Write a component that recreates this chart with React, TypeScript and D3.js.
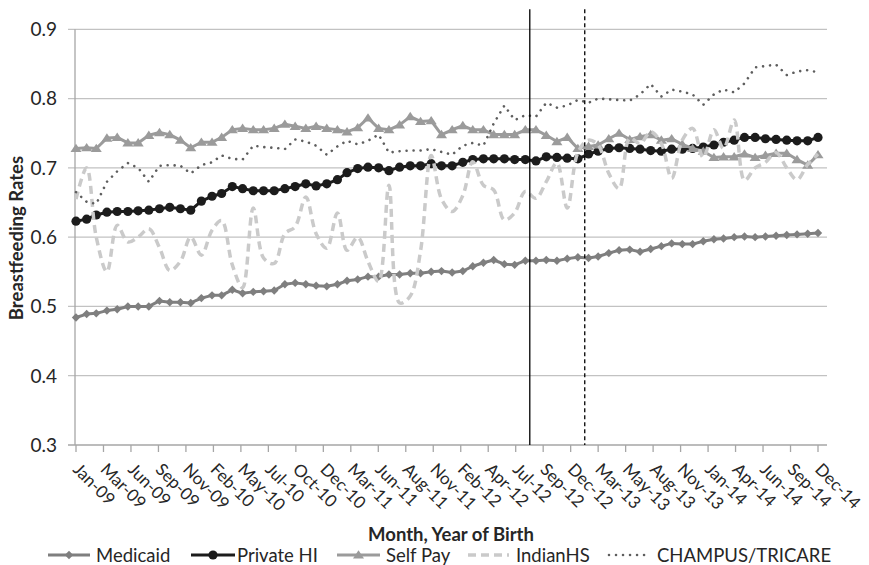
import * as d3 from "d3";

const W = 869;
const H = 565;

// one point per month, Jan 2009 .. Dec 2014
const months = d3.timeMonth.range(new Date(2009, 0, 1), new Date(2015, 0, 1));

const tickLabels = [
  "Jan-09", "Mar-09", "Jun-09", "Sep-09", "Nov-09", "Feb-10", "May-10", "Jul-10",
  "Oct-10", "Dec-10", "Mar-11", "Jun-11", "Aug-11", "Nov-11", "Feb-12", "Apr-12",
  "Jul-12", "Sep-12", "Dec-12", "Mar-13", "May-13", "Aug-13", "Nov-13", "Jan-14",
  "Apr-14", "Jun-14", "Sep-14", "Dec-14",
];
const yTicks = [0.3, 0.4, 0.5, 0.6, 0.7, 0.8, 0.9];

const medicaid = [
  0.484, 0.489, 0.490, 0.494, 0.496, 0.500, 0.500, 0.500, 0.508, 0.506,
  0.506, 0.505, 0.512, 0.516, 0.516, 0.524, 0.519, 0.521, 0.522, 0.523,
  0.532, 0.534, 0.532, 0.530, 0.529, 0.532, 0.537, 0.539, 0.543, 0.543,
  0.546, 0.546, 0.548, 0.548, 0.550, 0.551, 0.549, 0.551, 0.558, 0.563,
  0.567, 0.561, 0.560, 0.566, 0.566, 0.567, 0.566, 0.569, 0.571, 0.570,
  0.572, 0.577, 0.581, 0.582, 0.579, 0.583, 0.587, 0.591, 0.590, 0.590,
  0.594, 0.597, 0.598, 0.600, 0.601, 0.600, 0.601, 0.602, 0.603, 0.604,
  0.605, 0.606,
];
const privateHI = [
  0.623, 0.626, 0.632, 0.636, 0.637, 0.637, 0.638, 0.639, 0.641, 0.643,
  0.641, 0.639, 0.652, 0.659, 0.663, 0.673, 0.670, 0.667, 0.667, 0.667,
  0.670, 0.673, 0.677, 0.674, 0.677, 0.683, 0.693, 0.699, 0.701, 0.700,
  0.696, 0.701, 0.703, 0.703, 0.706, 0.703, 0.703, 0.708, 0.712, 0.713,
  0.713, 0.713, 0.712, 0.712, 0.710, 0.716, 0.715, 0.714, 0.713, 0.720,
  0.724, 0.728, 0.729, 0.728, 0.727, 0.725, 0.724, 0.727, 0.727, 0.728,
  0.730, 0.733, 0.737, 0.740, 0.744, 0.744, 0.742, 0.741, 0.740, 0.739,
  0.739, 0.744,
];
const selfPay = [
  0.728, 0.729, 0.728, 0.743, 0.744, 0.736, 0.736, 0.747, 0.751, 0.748,
  0.740, 0.729, 0.737, 0.737, 0.744, 0.755, 0.757, 0.755, 0.755, 0.757,
  0.763, 0.760, 0.757, 0.760, 0.757, 0.755, 0.752, 0.758, 0.772, 0.757,
  0.755, 0.762, 0.774, 0.767, 0.768, 0.748, 0.755, 0.761, 0.755, 0.755,
  0.748, 0.748, 0.748, 0.755, 0.755, 0.747, 0.738, 0.744, 0.728, 0.731,
  0.733, 0.742, 0.750, 0.741, 0.745, 0.748, 0.740, 0.742, 0.734, 0.728,
  0.724, 0.715, 0.716, 0.716, 0.720, 0.715, 0.718, 0.721, 0.721, 0.712,
  0.704, 0.719,
];
const indianHS = [
  0.655, 0.700, 0.600, 0.550, 0.617, 0.593, 0.600, 0.612, 0.585, 0.552,
  0.565, 0.600, 0.574, 0.610, 0.624, 0.560, 0.527, 0.642, 0.570, 0.562,
  0.605, 0.615, 0.658, 0.605, 0.584, 0.635, 0.581, 0.600, 0.565, 0.536,
  0.675, 0.505, 0.515, 0.580, 0.718, 0.655, 0.637, 0.660, 0.709, 0.675,
  0.668, 0.625, 0.635, 0.666, 0.656, 0.680, 0.707, 0.642, 0.722, 0.740,
  0.733, 0.692, 0.670, 0.743, 0.735, 0.752, 0.735, 0.685, 0.740, 0.757,
  0.715, 0.755, 0.728, 0.769, 0.682, 0.700, 0.708, 0.722, 0.700, 0.683,
  0.705, 0.720,
];
const champus = [
  0.665, 0.651, 0.648, 0.680, 0.695, 0.707, 0.700, 0.680, 0.703, 0.704,
  0.703, 0.692, 0.704, 0.708, 0.718, 0.713, 0.712, 0.732, 0.730, 0.729,
  0.727, 0.741, 0.738, 0.732, 0.719, 0.731, 0.739, 0.734, 0.739, 0.748,
  0.722, 0.724, 0.725, 0.725, 0.727, 0.723, 0.719, 0.732, 0.736, 0.732,
  0.764, 0.790, 0.769, 0.776, 0.774, 0.794, 0.787, 0.790, 0.798, 0.794,
  0.800, 0.799, 0.798, 0.797, 0.806, 0.821, 0.803, 0.813, 0.810, 0.806,
  0.791, 0.806, 0.813, 0.809, 0.822, 0.845, 0.847, 0.849, 0.834, 0.839,
  0.841, 0.838,
];

// policy reference dates (vertical lines)
const solidLineDate = new Date(2012, 7, 14);
const dashedLineDate = new Date(2013, 0, 21);

type Marker = "diamond" | "circle" | "triangle" | "none";
const series: { name: string; values: number[]; color: string; width: number; dash?: string; cap?: string; marker: Marker; smooth?: boolean }[] = [
  { name: "Medicaid", values: medicaid, color: "#7f7f7f", width: 3, marker: "diamond" },
  { name: "Private HI", values: privateHI, color: "#1c1c1c", width: 3, marker: "circle" },
  { name: "Self Pay", values: selfPay, color: "#9b9b9b", width: 3, marker: "triangle" },
  { name: "IndianHS", values: indianHS, color: "#cacaca", width: 3.5, dash: "8 5", marker: "none", smooth: true },
  { name: "CHAMPUS/TRICARE", values: champus, color: "#5e5e5e", width: 2.6, dash: "0.01 7", cap: "round", marker: "none" },
];

const font = "Lato, 'Open Sans', sans-serif";
const textColor = "#262626";

function markerPath(m: Marker, r: number) {
  if (m === "diamond") return `M0,${-r}L${r},0L0,${r}L${-r},0Z`;
  if (m === "triangle") return `M0,${-r}L${r * 1.15},${r * 0.75}L${-r * 1.15},${r * 0.75}Z`;
  return "";
}

function MarkerShape({ m, color, x, y }: { m: Marker; color: string; x: number; y: number }) {
  if (m === "none") return null;
  if (m === "circle") return <circle cx={x} cy={y} r={4.6} fill={color} />;
  return <path d={markerPath(m, m === "diamond" ? 4.2 : 4.8)} transform={`translate(${x},${y})`} fill={color} />;
}

export default function App() {
  const left = 76;
  const right = 818;
  const axisEnd = 827;
  const top = 29.3;
  const bottom = 445;

  const x = d3.scaleTime().domain([months[0], months[months.length - 1]]).range([left, right]);
  const y = d3.scaleLinear().domain([0.3, 0.9]).range([bottom, top]);

  // date axis: evenly spaced major ticks across the full range
  const t0 = +months[0];
  const t1 = +months[months.length - 1];
  const tickDates = tickLabels.map((_, k) => new Date(t0 + (k * (t1 - t0)) / (tickLabels.length - 1)));

  const gridX0 = left - 1;

  const legendItems = [
    { s: series[0], x0: 48, x1: 90, tx: 96 },
    { s: series[1], x0: 191, x1: 235, tx: 237 },
    { s: series[2], x0: 337, x1: 380, tx: 386 },
    { s: series[3], x0: 468, x1: 509, tx: 516 },
    { s: series[4], x0: 609, x1: 651, tx: 657 },
  ];
  const legendY = 555;

  return (
    <svg width={W} height={H} style={{ position: "absolute", left: 0, top: 0, background: "#fff" }} fontFamily={font}>
      {/* grid */}
      {yTicks.map((t) => (
        <g key={t}>
          <line x1={gridX0 - 7} x2={axisEnd} y1={y(t)} y2={y(t)} stroke={t === 0.3 ? "#a6a6a6" : "#c2c2c2"} strokeWidth={1.3} />
          <text x={57} y={y(t)} dy="0.36em" textAnchor="end" fontSize={19} fill={textColor}>
            {t.toFixed(1)}
          </text>
        </g>
      ))}
      <line x1={gridX0} x2={gridX0} y1={top} y2={bottom} stroke="#a6a6a6" strokeWidth={1.3} />

      {/* x ticks + labels */}
      {tickDates.map((d, k) => (
        <g key={k}>
          <line x1={x(d)} x2={x(d)} y1={bottom} y2={bottom + 7} stroke="#a6a6a6" strokeWidth={1.3} />
          <text transform={`translate(${x(d) - 4},${bottom + 25.5}) rotate(45)`} fontSize={17} fill={textColor}>
            {tickLabels[k]}
          </text>
        </g>
      ))}

      {/* series */}
      {series.map((s) => {
        const line = d3
          .line<number>()
          .x((_, i) => x(months[i]))
          .y((v) => y(v))
          .curve(s.smooth ? d3.curveCatmullRom : d3.curveLinear);
        return (
          <g key={s.name}>
            <path d={line(s.values) || ""} fill="none" stroke={s.color} strokeWidth={s.width} strokeDasharray={s.dash} strokeLinecap={(s.cap as any) || "butt"} strokeLinejoin="round" />
            {s.values.map((v, i) => (
              <MarkerShape key={i} m={s.marker} color={s.color} x={x(months[i])} y={y(v)} />
            ))}
          </g>
        );
      })}

      {/* reference lines */}
      <line x1={x(solidLineDate)} x2={x(solidLineDate)} y1={9.3} y2={bottom} stroke="#000" strokeWidth={1.3} />
      <line x1={x(dashedLineDate)} x2={x(dashedLineDate)} y1={9.3} y2={bottom} stroke="#000" strokeWidth={1.3} strokeDasharray="4 3" />

      {/* axis titles */}
      <text x={451} y={541} textAnchor="middle" fontSize={18.5} fontWeight="bold" fill={textColor}>
        Month, Year of Birth
      </text>
      <text transform={`translate(23,238) rotate(-90)`} textAnchor="middle" fontSize={18.5} fontWeight="bold" fill={textColor}>
        Breastfeeding Rates
      </text>

      {/* legend */}
      {legendItems.map(({ s, x0, x1, tx }) => (
        <g key={s.name}>
          <line x1={x0} x2={x1} y1={legendY} y2={legendY} stroke={s.color} strokeWidth={s.width} strokeDasharray={s.dash} strokeLinecap={(s.cap as any) || "butt"} />
          <MarkerShape m={s.marker} color={s.color} x={(x0 + x1) / 2} y={legendY} />
          <text x={tx} y={legendY} dy="0.36em" fontSize={18.5} fill={textColor}>
            {s.name}
          </text>
        </g>
      ))}
    </svg>
  );
}
